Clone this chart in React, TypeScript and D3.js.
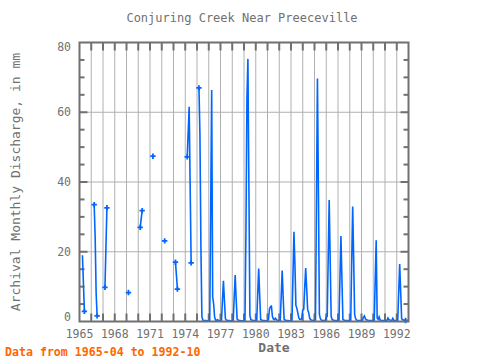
import React, { useEffect, useRef } from 'react';
import * as d3 from 'd3';

// monthly discharge (mm), one row per year Jan..Dec, null = no data
const years = [
  1965, 1966, 1967, 1968, 1969, 1970, 1971, 1972, 1973, 1974, 1975, 1976, 1977, 1978,
  1979, 1980, 1981, 1982, 1983, 1984, 1985, 1986, 1987, 1988, 1989, 1990, 1991, 1992,
];
const N = null;
const monthly: (number | null)[][] = [
  [N, N, N, 19.0, 11.0, 2.9, N, N, N, N, N, N],
  [N, N, N, 33.5, 24.1, 8.1, 1.6, N, N, N, N, N],
  [N, N, 9.8, 21.2, 32.6, N, N, N, N, N, N, N],
  [N, N, N, N, N, N, N, N, N, N, N, N],
  [N, N, 8.3, N, N, N, N, N, N, N, N, N],
  [N, N, 27.0, 29.4, 31.8, N, N, N, N, N, N, N],
  [N, N, N, 47.4, N, N, N, N, N, N, N, N],
  [N, N, N, 23.1, N, N, N, N, N, N, N, N],
  [N, N, 17.0, 13.3, 9.3, N, N, N, N, N, N, N],
  [N, N, 47.2, 54.3, 61.6, 39.1, 16.8, N, N, N, N, N],
  [N, N, 67.0, 53.5, 21.4, 1.4, 0.4, 0.3, 0.3, 0.3, 0.2, 0.2],
  [0.2, 0.3, 33.4, 66.4, 7.1, 5.0, 1.2, 0.4, 0.3, 0.5, 0.3, 0.2],
  [0.2, 0.2, 6.2, 11.7, 6.0, 0.8, 0.4, 0.3, 0.3, 0.3, 0.2, 0.2],
  [0.2, 0.2, 7.0, 13.3, 6.4, 0.7, 0.4, 0.3, 0.3, 0.2, 0.2, 0.2],
  [0.2, 0.3, 26.4, 64.0, 75.3, 38.7, 1.8, 0.5, 0.4, 0.3, 0.3, 0.2],
  [0.2, 0.2, 7.9, 15.2, 7.6, 0.6, 0.4, 0.3, 0.3, 0.3, 0.2, 0.2],
  [0.2, 0.5, 3.6, 4.2, 4.4, 1.5, 0.7, 0.5, 0.9, 0.6, 0.3, 0.3],
  [0.2, 0.2, 7.3, 14.6, 7.0, 0.6, 0.4, 0.3, 0.3, 0.3, 0.2, 0.2],
  [0.2, 0.3, 13.0, 25.7, 16.5, 4.6, 3.8, 2.4, 1.0, 0.6, 0.6, 0.8],
  [3.3, 3.5, 9.7, 15.3, 9.5, 3.4, 2.6, 1.0, 0.5, 0.4, 0.3, 0.3],
  [0.3, 0.5, 35.0, 69.7, 37.4, 2.0, 0.8, 0.4, 0.3, 0.3, 0.3, 0.3],
  [1.3, 1.5, 18.4, 34.8, 18.0, 1.5, 0.6, 0.4, 0.3, 0.3, 0.3, 0.3],
  [0.3, 0.3, 12.5, 24.5, 12.3, 0.6, 0.4, 0.3, 0.3, 0.3, 0.3, 0.3],
  [0.3, 0.3, 16.9, 33.0, 18.0, 2.0, 0.8, 0.4, 0.3, 0.3, 0.3, 0.3],
  [0.3, 0.4, 1.2, 1.6, 0.8, 0.5, 0.4, 0.3, 0.3, 0.3, 0.3, 0.3],
  [0.3, 0.3, 11.9, 23.3, 1.0, 0.6, 1.3, 0.4, 0.3, 0.3, 0.3, 0.3],
  [0.3, 0.3, 0.3, 1.0, 0.5, 0.4, 0.3, 0.3, 0.9, 0.3, 0.3, 0.3],
  [0.3, 0.3, 8.4, 16.5, 8.6, 0.8, 0.5, 0.4, 0.3, 0.3, N, N],
];
const xTicks = [1965, 1968, 1971, 1974, 1977, 1980, 1983, 1986, 1989, 1992];
const yTicks = [0, 20, 40, 60, 80];

const mono = '"DejaVu Sans Mono", monospace';
const grey = '#707070';

const App = () => {
  const svgRef = useRef<SVGSVGElement>(null);

  useEffect(() => {
    const svg = d3.select(svgRef.current);
    svg.selectAll('*').remove();

    const left = 79.5, right = 408.5, top = 42.5, bottom = 321.5;
    const x = d3.scaleLinear().domain([1965, 1993]).range([left, right]);
    const y = d3.scaleLinear().domain([0, 80]).range([bottom, top]);

    // flatten into points (gaps kept as null)
    const pts: { t: number; v: number | null }[] = [];
    years.forEach((yr, i) => monthly[i].forEach((v, m) => pts.push({ t: yr + m / 12, v })));
    // trim leading / trailing missing months
    const first = pts.findIndex(p => p.v != null);
    let last = pts.length - 1;
    while (pts[last].v == null) last--;
    const data = pts.slice(first, last + 1);

    // grid
    const grid = svg.append('g').attr('stroke', '#b0b0b0').attr('stroke-width', 1);
    grid.selectAll('.vg').data(d3.range(1966, 1993)).enter().append('line')
      .attr('x1', d => x(d)).attr('x2', d => x(d)).attr('y1', top).attr('y2', bottom);
    grid.selectAll('.hg').data([20, 40, 60]).enter().append('line')
      .attr('x1', left).attr('x2', right).attr('y1', d => y(d)).attr('y2', d => y(d));

    // ticks
    const tk = svg.append('g').attr('stroke', grey).attr('stroke-width', 2);
    d3.range(1966, 1993).forEach(yr => {
      tk.append('line').attr('x1', x(yr)).attr('x2', x(yr)).attr('y1', top).attr('y2', top + 8);
      tk.append('line').attr('x1', x(yr)).attr('x2', x(yr)).attr('y1', bottom).attr('y2', bottom - 8);
    });
    d3.range(5, 80, 5).forEach(v => {
      const len = v % 20 === 0 ? 8 : 5;
      tk.append('line').attr('x1', left).attr('x2', left + len).attr('y1', y(v)).attr('y2', y(v));
      tk.append('line').attr('x1', right).attr('x2', right - len).attr('y1', y(v)).attr('y2', y(v));
    });

    // series
    const line = d3.line<{ t: number; v: number | null }>()
      .defined(d => d.v != null)
      .x(d => x(d.t))
      .y(d => y(d.v as number));
    svg.append('path').datum(data)
      .attr('d', line)
      .attr('fill', 'none')
      .attr('stroke', '#0066ff')
      .attr('stroke-width', 1.6);

    // markers where a run starts or ends
    const ends = data.filter((d, i) => d.v != null && i > 0 &&
      (data[i - 1].v == null || i === data.length - 1 || data[i + 1].v == null));
    svg.selectAll('.mk').data(ends).enter().append('path')
      .attr('d', d3.symbol().type(d3.symbolCross).size(16))
      .attr('transform', d => `translate(${x(d.t)},${y(d.v as number)})`)
      .attr('fill', '#0066ff');

    // frame
    svg.append('rect')
      .attr('x', left).attr('y', top).attr('width', right - left).attr('height', bottom - top)
      .attr('fill', 'none').attr('stroke', grey).attr('stroke-width', 2);

    // tick labels
    svg.selectAll('.xl').data(xTicks).enter().append('text')
      .attr('x', d => x(d)).attr('y', 337.5)
      .attr('text-anchor', 'middle')
      .style('font-family', mono).style('font-size', '11.5px').style('fill', grey)
      .text(d => d);
    svg.selectAll('.yl').data(yTicks).enter().append('text')
      .attr('x', 71).attr('y', d => Math.min(Math.max(y(d), 47), 317) + 4)
      .attr('text-anchor', 'end')
      .style('font-family', mono).style('font-size', '11.5px').style('fill', grey)
      .text(d => d);

    // titles
    svg.append('text')
      .attr('x', 242).attr('y', 21.5).attr('text-anchor', 'middle')
      .style('font-family', mono).style('font-size', '12px').style('fill', grey)
      .text('Conjuring Creek Near Preeceville');
    svg.append('text')
      .attr('x', 274).attr('y', 352).attr('text-anchor', 'middle')
      .style('font-family', mono).style('font-size', '13px').style('font-weight', 'bold').style('fill', grey)
      .text('Date');
    svg.append('text')
      .attr('transform', 'translate(20,182) rotate(-90)').attr('text-anchor', 'middle')
      .style('font-family', mono).style('font-size', '13px').style('fill', grey)
      .text('Archival Monthly Discharge, in mm');
    svg.append('text')
      .attr('x', 5).attr('y', 355.5)
      .style('font-family', mono).style('font-size', '11.6px').style('font-weight', 'bold').style('fill', '#ff6600')
      .text('Data from 1965-04 to 1992-10');
  }, []);

  return (
    <svg ref={svgRef} width={480} height={360}
      style={{ position: 'absolute', left: 0, top: 0, background: '#fff' }} />
  );
};

export default App;
